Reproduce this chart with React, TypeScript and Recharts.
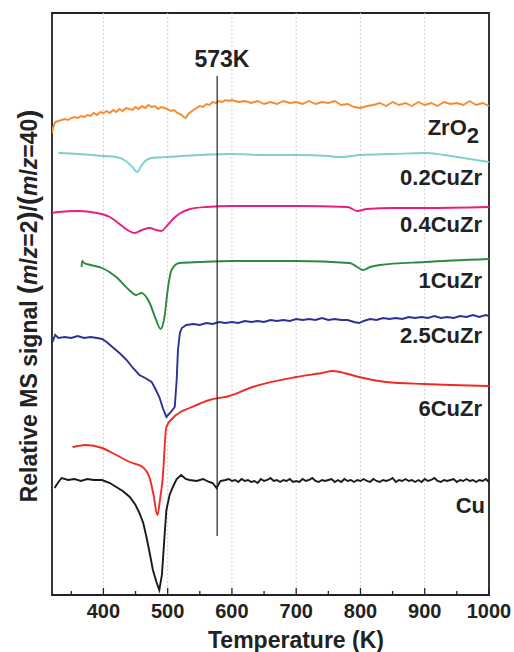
import { LineChart, Line, XAxis, YAxis, ReferenceLine, ReferenceArea } from "recharts"

// [temperature K, relative signal]
const zro2 = [
  [320, 462], [322, 468], [325, 473], [330, 474], [335, 475], [340, 476], [345, 475], [350, 477],
  [355, 478], [360, 477], [365, 479], [370, 478], [375, 480], [380, 479], [385, 482], [390, 480],
  [395, 483], [400, 482], [405, 484], [410, 482], [415, 485], [420, 483], [425, 486], [430, 484],
  [435, 487], [440, 486], [445, 485], [450, 488], [455, 486], [460, 489], [465, 487], [470, 490],
  [475, 488], [480, 489], [485, 486], [490, 488], [495, 487], [500, 486], [505, 484], [510, 485],
  [515, 482], [520, 481], [525, 478], [528, 477], [532, 481], [536, 483], [540, 485], [545, 487],
  [550, 489], [555, 488], [560, 491], [565, 490], [570, 493], [575, 492], [580, 494], [585, 493],
  [590, 495], [595, 494], [600, 495], [610, 493], [620, 494], [630, 492], [640, 494], [650, 491],
  [660, 493], [670, 491], [680, 494], [690, 492], [700, 493], [710, 491], [720, 494], [730, 491],
  [740, 493], [750, 492], [760, 494], [770, 490], [780, 491], [790, 488], [800, 487], [810, 489],
  [820, 490], [830, 492], [840, 489], [850, 493], [860, 490], [870, 492], [880, 489], [890, 493],
  [900, 490], [910, 492], [920, 489], [930, 493], [940, 491], [950, 492], [960, 490], [970, 494],
  [980, 490], [990, 492], [1000, 489],
]

const cuzr02 = [
  [330, 442], [360, 441], [400, 439], [420, 438], [435, 434], [445, 428], [453, 423], [458, 428],
  [465, 434], [475, 437], [500, 438], [550, 440], [600, 441], [650, 440], [700, 440], [750, 439],
  [768, 438], [800, 440], [850, 441], [900, 442], [930, 440], [960, 437], [1000, 433],
]

const cuzr04 = [
  [320, 382], [330, 383], [360, 384], [390, 382], [410, 378], [425, 371], [440, 364], [448, 362],
  [460, 365], [472, 367], [482, 365], [490, 364], [500, 370], [510, 377], [520, 382], [535, 386],
  [560, 388], [600, 389], [700, 389], [780, 388], [795, 384], [810, 386], [850, 387], [900, 387],
  [1000, 388],
]

const cuzr1 = [
  [366, 328], [367, 334], [370, 332], [380, 330], [398, 327], [420, 318], [440, 305], [451, 300],
  [459, 302], [472, 292], [482, 275], [489, 266], [495, 278], [500, 305], [506, 325], [518, 332],
  [550, 333], [600, 334], [700, 334], [783, 332], [795, 328], [804, 325], [815, 328], [830, 330],
  [900, 333], [1000, 336],
]

const cuzr25 = [
  [320, 258], [322, 255], [325, 260], [330, 257], [340, 258], [350, 257], [360, 259], [370, 257],
  [380, 258], [390, 257], [398, 256], [405, 253], [414, 248], [425, 242], [436, 235], [446, 227],
  [456, 220], [465, 217], [475, 213], [481, 206], [487, 198], [493, 186], [498, 178], [505, 183],
  [511, 188], [514, 215], [516, 245], [519, 262], [522, 267], [529, 270], [540, 271], [550, 270],
  [560, 272], [570, 271], [580, 273], [590, 272], [600, 273], [610, 272], [620, 274], [630, 273],
  [640, 274], [650, 273], [660, 275], [670, 274], [680, 275], [690, 274], [700, 276], [710, 275],
  [720, 276], [730, 275], [740, 277], [750, 275], [760, 276], [770, 275], [780, 275], [790, 273],
  [798, 272], [805, 274], [815, 276], [825, 275], [835, 277], [845, 276], [855, 277], [865, 276],
  [875, 278], [885, 277], [895, 278], [905, 277], [915, 279], [925, 277], [935, 278], [945, 277],
  [955, 279], [965, 278], [975, 280], [985, 278], [995, 280], [1000, 279],
]

const cuzr6 = [
  [352, 148], [360, 149], [373, 150], [398, 147], [420, 140], [441, 133], [461, 128], [472, 117],
  [478, 100], [484, 80], [488, 95], [492, 115], [498, 168], [508, 177], [520, 183], [534, 187],
  [565, 195], [596, 199], [632, 208], [700, 218], [740, 222], [757, 224], [780, 221], [798, 218],
  [840, 213], [900, 211], [1000, 209],
]

const cu = [
  [324, 107], [330, 113], [335, 117], [345, 115], [355, 116], [365, 114], [375, 116], [385, 115],
  [398, 115], [410, 112], [420, 108], [430, 104], [441, 98], [450, 90], [456, 82], [462, 72],
  [467, 58], [472, 42], [477, 25], [483, 12], [487, 5], [491, 20], [495, 58], [498, 85],
  [503, 100], [508, 108], [514, 116], [521, 120], [528, 116], [534, 115], [545, 114], [555, 116],
  [565, 113], [570, 112], [576, 107], [582, 114], [590, 115], [595, 116], [600, 114], [605, 115],
  [610, 113], [615, 116], [620, 114], [625, 115], [630, 113], [635, 114], [640, 112], [645, 116],
  [650, 114], [655, 115], [660, 117], [665, 114], [670, 115], [675, 113], [680, 115], [685, 114],
  [690, 116], [695, 113], [700, 114], [705, 113], [710, 116], [715, 114], [720, 115], [725, 117],
  [730, 114], [735, 113], [740, 115], [745, 114], [750, 115], [755, 116], [760, 113], [765, 115],
  [770, 113], [775, 116], [780, 114], [785, 115], [790, 113], [795, 115], [800, 114], [805, 116],
  [810, 114], [815, 113], [820, 116], [825, 114], [830, 113], [835, 115], [840, 114], [845, 115],
  [850, 117], [855, 113], [860, 115], [865, 114], [870, 116], [875, 114], [880, 115], [885, 113],
  [890, 115], [895, 113], [900, 116], [905, 114], [910, 115], [915, 117], [920, 114], [925, 113],
  [930, 115], [935, 114], [940, 115], [945, 116], [950, 113], [955, 115], [960, 114], [965, 116],
  [970, 114], [975, 115], [980, 113], [985, 115], [990, 114], [995, 116], [1000, 113],
]

const xTicks = [350, 400, 450, 500, 550, 600, 650, 700, 750, 800, 850, 900, 950, 1000]
const gridTemps = [400, 500, 600, 700, 800, 900]
const markerTemp = 577

const series = [
  { name: "ZrO2", data: zro2, color: "#f7892e", smooth: false },
  { name: "0.2CuZr", data: cuzr02, color: "#7fcfcf", smooth: true },
  { name: "0.4CuZr", data: cuzr04, color: "#ec1c7e", smooth: true },
  { name: "1CuZr", data: cuzr1, color: "#2b8b3c", smooth: true },
  { name: "2.5CuZr", data: cuzr25, color: "#2e3192", smooth: false },
  { name: "6CuZr", data: cuzr6, color: "#ef2b25", smooth: true },
  { name: "Cu", data: cu, color: "#1a1a1a", smooth: false },
]

const font = "Arial, 'Liberation Sans', Helvetica, sans-serif"

function Tick(props: any) {
  const { x, y, payload } = props
  const major = payload.value % 100 === 0
  return (
    <g>
      <line x1={x} x2={x} y1={y} y2={y - (major ? 7 : 4)} stroke="#222" strokeWidth={1.3} />
      {major && (
        <text x={x} y={y + 23} textAnchor="middle" fontFamily={font} fontWeight="bold" fontSize={20} fill="#222">
          {payload.value}
        </text>
      )}
    </g>
  )
}

export default function App() {
  return (
    <div style={{ position: "absolute", left: 0, top: 0, width: 514, height: 652, background: "#fff" }}>
      <LineChart width={514} height={652} margin={{ top: 13, right: 25, left: 52, bottom: 27 }}>
        <XAxis
          type="number"
          dataKey="t"
          domain={[320, 1000]}
          ticks={xTicks}
          allowDataOverflow
          tickSize={0}
          tickMargin={0}
          tickLine={false}
          axisLine={false}
          height={30}
          tick={<Tick />}
          interval={0}
        />
        <YAxis type="number" domain={[0, 582]} hide allowDataOverflow />
        {gridTemps.map((g) => (
          <ReferenceLine key={g} x={g} stroke="#cfcfcf" strokeDasharray="2 2" strokeWidth={1} />
        ))}
        {series.map((s) => (
          <Line
            key={s.name}
            data={s.data.map(([t, v]) => ({ t, v }))}
            dataKey="v"
            type={s.smooth ? "monotone" : "linear"}
            stroke={s.color}
            strokeWidth={1.9}
            dot={false}
            isAnimationActive={false}
          />
        ))}
        <ReferenceLine
          segment={[{ x: markerTemp, y: 59 }, { x: markerTemp, y: 519 }]}
          stroke="#222"
          strokeWidth={1.2}
        />
        <ReferenceArea x1={320} x2={1000} y1={0} y2={582} fill="none" stroke="#222" strokeWidth={1.8} ifOverflow="visible" />
      </LineChart>
      <svg width={514} height={652} style={{ position: "absolute", left: 0, top: 0, pointerEvents: "none" }}>
        <g fontFamily={font} fontWeight="bold" fill="#222">
          <text x={222} y={67} fontSize={23} textAnchor="middle">573K</text>
          <text x={479} y={135} fontSize={22} textAnchor="end">
            ZrO<tspan fontSize={22} dy={8}>2</tspan>
          </text>
          <text x={482} y={185} fontSize={22} textAnchor="end">0.2CuZr</text>
          <text x={482} y={232} fontSize={22} textAnchor="end">0.4CuZr</text>
          <text x={482} y={288} fontSize={22} textAnchor="end">1CuZr</text>
          <text x={482} y={343} fontSize={22} textAnchor="end">2.5CuZr</text>
          <text x={482} y={416} fontSize={22} textAnchor="end">6CuZr</text>
          <text x={485} y={513} fontSize={22} textAnchor="end">Cu</text>
          <text x={296} y={648} fontSize={23} textAnchor="middle">Temperature (K)</text>
          <text transform="translate(37,306) rotate(-90)" fontSize={23} textAnchor="middle">
            Relative MS signal <tspan fontSize={27}>(</tspan><tspan fontStyle="italic">m</tspan>/<tspan fontStyle="italic">z</tspan>=2<tspan fontSize={27}>)</tspan>/<tspan fontSize={27}>(</tspan><tspan fontStyle="italic">m</tspan>/<tspan fontStyle="italic">z</tspan>=40<tspan fontSize={27}>)</tspan>
          </text>
        </g>
      </svg>
    </div>
  )
}
